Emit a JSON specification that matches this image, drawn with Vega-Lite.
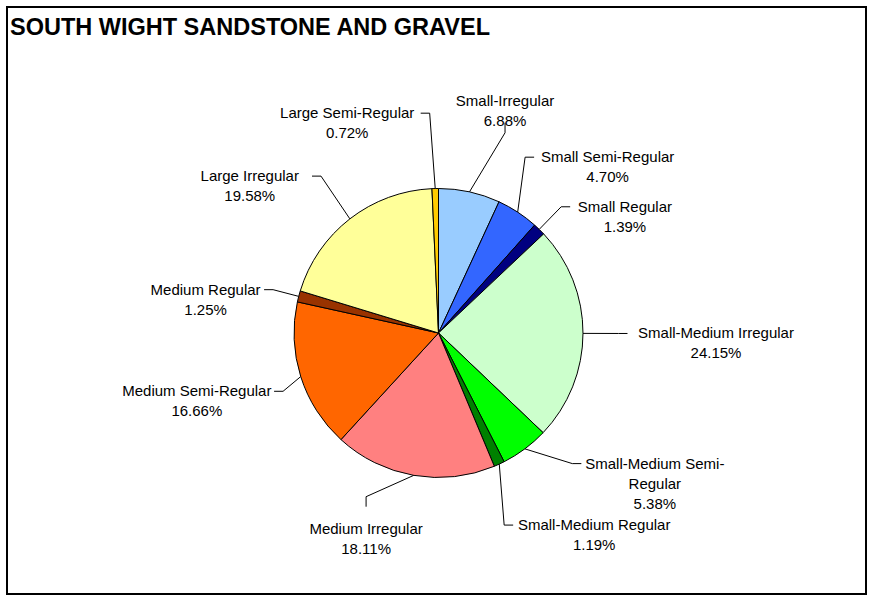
{
  "$schema": "https://vega.github.io/schema/vega-lite/v6.json",
  "width": 859,
  "height": 587,
  "autosize": {"type": "none"},
  "padding": {"left": 7, "top": 7, "right": 7, "bottom": 7},
  "background": "white",
  "title": {
    "text": "SOUTH WIGHT SANDSTONE AND GRAVEL",
    "anchor": "start",
    "frame": "group",
    "orient": "top",
    "offset": -28,
    "baseline": "alphabetic",
    "dx": 3,
    "dy": 23,
    "font": "Liberation Sans",
    "fontSize": 23.5,
    "fontWeight": "bold",
    "color": "black"
  },
  "data": {
    "values": [
      {"category": "Small-Irregular", "pct": 6.88},
      {"category": "Small Semi-Regular", "pct": 4.70},
      {"category": "Small Regular", "pct": 1.39},
      {"category": "Small-Medium Irregular", "pct": 24.15},
      {"category": "Small-Medium Semi-Regular", "pct": 5.38},
      {"category": "Small-Medium Regular", "pct": 1.19},
      {"category": "Medium Irregular", "pct": 18.11},
      {"category": "Medium Semi-Regular", "pct": 16.66},
      {"category": "Medium Regular", "pct": 1.25},
      {"category": "Large Irregular", "pct": 19.58},
      {"category": "Large Semi-Regular", "pct": 0.72}
    ]
  },
  "transform": [
    {"joinaggregate": [{"op": "sum", "field": "pct", "as": "total"}]},
    {"window": [{"op": "row_number", "as": "idx"}]},
    {"window": [{"op": "sum", "field": "pct", "as": "cum"}], "sort": [{"field": "idx"}], "frame": [null, 0]},
    {"calculate": "(datum.cum - datum.pct) / datum.total", "as": "f0"},
    {"calculate": "datum.cum / datum.total", "as": "f1"},
    {"calculate": "(datum.cum - datum.pct / 2) / datum.total", "as": "fm"},
    {"calculate": "[6, -7, 0, 0, -9, 6, 14, -3, 0, 1, -1][datum.idx - 1]", "as": "nudge"},
    {"calculate": "[211, 196, 176, 180, 187, 203, 179, 166, 171, 196, 220][datum.idx - 1]", "as": "elbowR"},
    {"calculate": "2 * PI * datum.fm", "as": "a0"},
    {"calculate": "datum.fm * 360 + datum.nudge", "as": "deg"},
    {"calculate": "datum.deg * PI / 180", "as": "a1"},
    {"calculate": "144.5 * sin(datum.a0)", "as": "px"},
    {"calculate": "-144.5 * cos(datum.a0)", "as": "py"},
    {"calculate": "datum.elbowR * sin(datum.a1)", "as": "ex"},
    {"calculate": "-datum.elbowR * cos(datum.a1)", "as": "ey"},
    {"calculate": "datum.deg < 20 || (datum.deg > 170 && datum.deg < 210)", "as": "vert"},
    {"calculate": "datum.deg < 90 || datum.deg > 270 ? -1 : 1", "as": "vs"},
    {"calculate": "datum.deg < 180 ? 1 : -1", "as": "side"},
    {"calculate": "datum.vert ? datum.ex : datum.ex + 9 * datum.side", "as": "sx"},
    {"calculate": "datum.vert ? datum.ey + 10 * datum.vs : datum.ey", "as": "sy"},
    {"calculate": "lastindexof(datum.category, '-') + 1", "as": "k"},
    {"calculate": "length(datum.category) > 22", "as": "wrap"},
    {"calculate": "format(datum.pct, '.2f') + '%'", "as": "pctText"},
    {"calculate": "datum.wrap ? [slice(datum.category, 0, datum.k), slice(datum.category, datum.k), datum.pctText] : [datum.category, datum.pctText]", "as": "lines"},
    {"calculate": "datum.wrap ? max(datum.k, length(datum.category) - datum.k) : length(datum.category)", "as": "wlen"},
    {"calculate": "datum.vert ? datum.sx : datum.sx + datum.side * (6 + datum.wlen * 3.75)", "as": "lx"},
    {"calculate": "datum.vert ? datum.sy + datum.vs * (2 + length(datum.lines) * 10) : datum.sy", "as": "ly"}
  ],
  "layer": [
    {
      "mark": {"type": "arc", "outerRadius": 144.5, "stroke": "black", "strokeWidth": 1},
      "encoding": {
        "x": {"datum": 0, "type": "quantitative", "scale": {"domain": [-431.5, 427.5], "nice": false, "zero": false}, "axis": null},
        "y": {"datum": 0, "type": "quantitative", "scale": {"domain": [-326, 261], "range": [0, 587], "nice": false, "zero": false}, "axis": null},
        "theta": {"field": "f0", "type": "quantitative", "stack": null, "scale": {"domain": [0, 1]}},
        "theta2": {"field": "f1"},
        "color": {
          "field": "category",
          "type": "nominal",
          "legend": null,
          "scale": {
            "domain": ["Small-Irregular", "Small Semi-Regular", "Small Regular", "Small-Medium Irregular", "Small-Medium Semi-Regular", "Small-Medium Regular", "Medium Irregular", "Medium Semi-Regular", "Medium Regular", "Large Irregular", "Large Semi-Regular"],
            "range": ["#99CCFF", "#3366FF", "#000080", "#CCFFCC", "#00FF00", "#008000", "#FF8080", "#FF6600", "#993300", "#FFFF99", "#FFCC00"]
          }
        }
      }
    },
    {
      "mark": {"type": "rule", "color": "black", "strokeWidth": 1},
      "encoding": {
        "x": {"field": "px", "type": "quantitative", "scale": {"domain": [-431.5, 427.5], "nice": false, "zero": false}, "axis": null},
        "y": {"field": "py", "type": "quantitative", "scale": {"domain": [-326, 261], "range": [0, 587], "nice": false, "zero": false}, "axis": null},
        "x2": {"field": "ex"},
        "y2": {"field": "ey"}
      }
    },
    {
      "mark": {"type": "rule", "color": "black", "strokeWidth": 1},
      "encoding": {
        "x": {"field": "ex", "type": "quantitative", "scale": {"domain": [-431.5, 427.5], "nice": false, "zero": false}, "axis": null},
        "y": {"field": "ey", "type": "quantitative", "scale": {"domain": [-326, 261], "range": [0, 587], "nice": false, "zero": false}, "axis": null},
        "x2": {"field": "sx"},
        "y2": {"field": "sy"}
      }
    },
    {
      "mark": {"type": "text", "align": "center", "baseline": "middle", "font": "Liberation Sans", "fontSize": 15, "lineHeight": 20, "color": "black"},
      "encoding": {
        "x": {"field": "lx", "type": "quantitative", "scale": {"domain": [-431.5, 427.5], "nice": false, "zero": false}, "axis": null},
        "y": {"field": "ly", "type": "quantitative", "scale": {"domain": [-326, 261], "range": [0, 587], "nice": false, "zero": false}, "axis": null},
        "text": {"field": "lines", "type": "nominal"}
      }
    }
  ],
  "config": {
    "view": {"stroke": "black", "strokeWidth": 2},
    "font": "Liberation Sans"
  }
}
